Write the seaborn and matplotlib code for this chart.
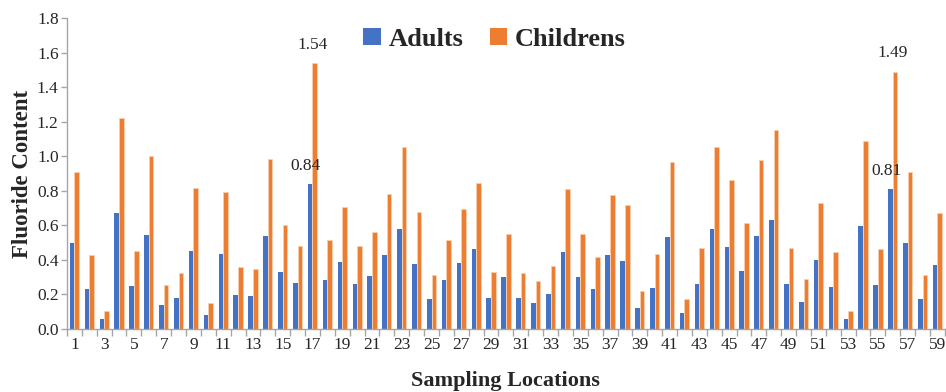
import matplotlib
matplotlib.use("Agg")
import matplotlib.pyplot as plt
import seaborn as sns
import pandas as pd
import numpy as np

locations = list(range(1, 60))
adults = [0.495, 0.233, 0.056, 0.669, 0.249, 0.547, 0.139, 0.177, 0.449, 0.081,
          0.435, 0.197, 0.191, 0.539, 0.329, 0.264, 0.84, 0.281, 0.385, 0.262,
          0.306, 0.430, 0.578, 0.374, 0.171, 0.281, 0.382, 0.464, 0.181, 0.301,
          0.177, 0.152, 0.200, 0.443, 0.301, 0.229, 0.426, 0.391, 0.119, 0.239,
          0.530, 0.094, 0.258, 0.578, 0.472, 0.333, 0.536, 0.630, 0.258, 0.158,
          0.401, 0.243, 0.056, 0.597, 0.252, 0.81, 0.495, 0.171, 0.368]
childrens = [0.907, 0.426, 0.102, 1.222, 0.453, 1.004, 0.252, 0.322, 0.819, 0.148,
             0.794, 0.358, 0.349, 0.986, 0.601, 0.478, 1.54, 0.514, 0.707, 0.480,
             0.559, 0.784, 1.056, 0.680, 0.314, 0.514, 0.697, 0.848, 0.331, 0.549,
             0.322, 0.279, 0.366, 0.811, 0.549, 0.418, 0.776, 0.715, 0.218, 0.437,
             0.969, 0.175, 0.470, 1.056, 0.863, 0.611, 0.977, 1.152, 0.470, 0.287,
             0.732, 0.443, 0.102, 1.091, 0.462, 1.49, 0.907, 0.314, 0.672]
series_names = ["Adults", "Childrens"]
colors = ["#4472C4", "#ED7D31"]
annotated = {17: ("0.84", "1.54"), 56: ("0.81", "1.49")}

df = pd.DataFrame({
    "Location": [str(l) for l in locations] * 2,
    "Value": adults + childrens,
    "Group": [series_names[0]] * len(locations) + [series_names[1]] * len(locations),
})

sns.set_style("white")
plt.rcParams["font.family"] = ["Liberation Serif", "DejaVu Serif"]

fig = plt.figure(figsize=(9.46, 3.92), dpi=100)
ax = fig.add_axes([0.0708, 0.1607, 0.928, 0.7933])

sns.barplot(data=df, x="Location", y="Value", hue="Group", palette=colors,
            width=0.62, ax=ax, saturation=1, legend=True)
for p in ax.patches:
    p.set_edgecolor("none")
for cont, c in zip(ax.containers, colors):
    for bar in cont:
        if c == colors[1]:
            bar.set_edgecolor("#f8d0b0")
            bar.set_linewidth(0.6)

ax.set_xlim(-0.5, len(locations) - 0.5)
ax.set_ylim(0, 1.8)
ax.set_yticks(np.arange(0, 1.81, 0.2))
ax.set_yticklabels([f"{v:.1f}" for v in np.arange(0, 1.81, 0.2)], fontsize=12.5)
ax.set_xticks(range(0, len(locations), 2))
ax.set_xticklabels([str(l) for l in locations[::2]], fontsize=12.5)
ax.tick_params(axis="x", which="major", bottom=True, length=0, pad=6)
ax.set_xticks(np.arange(-0.5, len(locations), 1), minor=True)
ax.tick_params(axis="x", which="minor", bottom=True, length=5, color="#a6a6a6", width=1)
ax.tick_params(axis="y", left=True, length=4, color="#a6a6a6", width=1, pad=2)

for s in ["top", "right"]:
    ax.spines[s].set_visible(False)
for s in ["left", "bottom"]:
    ax.spines[s].set_color("#a6a6a6")
    ax.spines[s].set_linewidth(1)

ax.set_xlabel("Sampling Locations", fontsize=16, fontweight="bold", labelpad=13)
ax.set_ylabel("Fluoride Content", fontsize=16.5, fontweight="bold", labelpad=3)

# annotations
for loc, (ta, tc) in annotated.items():
    i = locations.index(loc)
    ax.text(i - 0.45, adults[i] + 0.06, ta, ha="center", va="bottom", fontsize=12.5)
    ax.text(i, childrens[i] + 0.06, tc, ha="center", va="bottom", fontsize=12.5)

leg = ax.legend(loc="upper center", bbox_to_anchor=(0.487, 1.045), ncol=2, frameon=False,
                prop={"family": ["Liberation Serif"], "weight": "bold", "size": 19},
                handlelength=0.65, handleheight=0.65, handletextpad=0.3, columnspacing=1.0)

fig.savefig("out.png", dpi=100)
